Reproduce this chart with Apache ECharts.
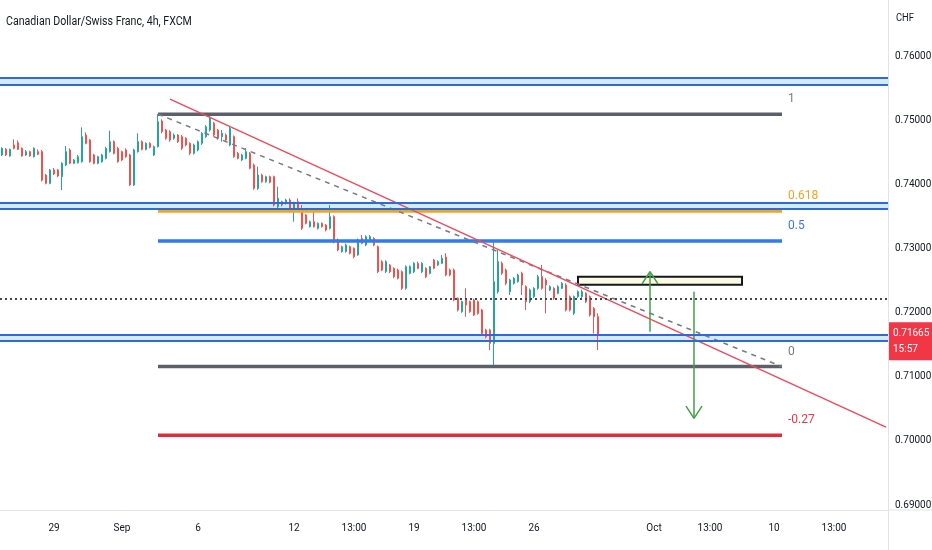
<!DOCTYPE html>
<html>
<head>
<meta charset="utf-8">
<script src="https://cdn.jsdelivr.net/npm/echarts@6/dist/echarts.min.js"></script>
<style>
html,body{margin:0;padding:0;background:#fff}
#chart{width:932px;height:550px}
</style>
</head>
<body>
<div id="chart"></div>
<script>
const FONT = "Roboto,'Liberation Sans',sans-serif";

// 4h candles, [open, close, low, high]
const candles = [
  [0.74463,0.74567,0.74447,0.74582],[0.74551,0.74463,0.74447,0.74572],[0.74447,0.74551,0.74437,0.74562],
  [0.74619,0.74567,0.74551,0.74707],[0.74655,0.74551,0.74541,0.74690],[0.74567,0.74447,0.74437,0.74582],
  [0.74463,0.74515,0.74447,0.74541],[0.74515,0.74447,0.74437,0.74530],[0.74437,0.74567,0.74422,0.74582],
  [0.74515,0.74473,0.74463,0.74551],[0.74515,0.74072,0.74050,0.74541],[0.74150,0.74020,0.74005,0.74166],
  [0.74020,0.74229,0.74005,0.74245],[0.74229,0.74166,0.74150,0.74260],[0.74229,0.74135,0.74115,0.74245],
  [0.74124,0.74333,0.73916,0.74350],[0.74307,0.74515,0.74290,0.74603],[0.74541,0.74333,0.74320,0.74567],
  [0.74333,0.74385,0.74320,0.74400],[0.74343,0.74437,0.74330,0.74463],[0.74359,0.74749,0.74343,0.74894],
  [0.74775,0.74645,0.74630,0.74815],[0.74697,0.74359,0.74343,0.74712],[0.74463,0.74333,0.74318,0.74480],
  [0.74333,0.74437,0.74318,0.74450],[0.74359,0.74463,0.74343,0.74480],[0.74411,0.74567,0.74395,0.74590],
  [0.74515,0.74671,0.74500,0.74842],[0.74671,0.74489,0.74473,0.74690],[0.74567,0.74359,0.74343,0.74590],
  [0.74515,0.74385,0.74370,0.74530],[0.74541,0.74437,0.74420,0.74567],[0.74463,0.73994,0.73980,0.74480],
  [0.73994,0.74541,0.73980,0.74560],[0.74515,0.74671,0.74500,0.74801],[0.74671,0.74551,0.74535,0.74690],
  [0.74551,0.74645,0.74535,0.74660],[0.74645,0.74582,0.74567,0.74660],[0.74463,0.74593,0.74447,0.74610],
  [0.74593,0.74983,0.74580,0.75100],[0.74993,0.74827,0.74801,0.75020],[0.74853,0.74723,0.74700,0.74870],
  [0.74827,0.74697,0.74670,0.74850],[0.74723,0.74775,0.74700,0.74800],[0.74775,0.74671,0.74650,0.74790],
  [0.74749,0.74567,0.74540,0.74775],[0.74723,0.74619,0.74600,0.74740],[0.74645,0.74489,0.74463,0.74660],
  [0.74489,0.74619,0.74470,0.74640],[0.74541,0.74671,0.74520,0.74690],[0.74645,0.74801,0.74620,0.74820],
  [0.74749,0.74905,0.74730,0.74930],[0.74853,0.75035,0.74830,0.75090],[0.74957,0.74775,0.74750,0.74980],
  [0.74853,0.74723,0.74700,0.74870],[0.74749,0.74801,0.74671,0.74853],[0.74775,0.74697,0.74680,0.74800],
  [0.74619,0.74879,0.74600,0.74905],[0.74749,0.74437,0.74420,0.74770],[0.74489,0.74411,0.74395,0.74510],
  [0.74385,0.74463,0.74370,0.74480],[0.74411,0.74515,0.74395,0.74567],[0.74489,0.74255,0.74240,0.74510],
  [0.74307,0.73942,0.73920,0.74330],[0.73942,0.74150,0.73916,0.74281],[0.74150,0.74046,0.74030,0.74170],
  [0.74046,0.74124,0.74030,0.74140],[0.74124,0.74036,0.74020,0.74140],[0.74124,0.73682,0.73660,0.74140],
  [0.73656,0.73786,0.73578,0.73968],[0.73734,0.73682,0.73660,0.73750],[0.73708,0.73760,0.73690,0.73780],
  [0.73760,0.73600,0.73560,0.73786],[0.73600,0.73708,0.73422,0.73734],[0.73734,0.73604,0.73580,0.73786],
  [0.73604,0.73318,0.73292,0.73682],[0.73526,0.73396,0.73380,0.73540],[0.73344,0.73422,0.73330,0.73440],
  [0.73422,0.73344,0.73330,0.73578],[0.73318,0.73396,0.73300,0.73410],[0.73396,0.73344,0.73330,0.73410],
  [0.73370,0.73292,0.73270,0.73385],[0.73318,0.73500,0.73300,0.73682],[0.73500,0.73136,0.73084,0.73520],
  [0.73136,0.72980,0.72960,0.73160],[0.72954,0.73032,0.72940,0.73050],[0.72954,0.73058,0.72940,0.73080],
  [0.73032,0.72928,0.72910,0.73050],[0.73006,0.72876,0.72850,0.73020],[0.72902,0.73136,0.72890,0.73160],
  [0.73162,0.73084,0.73070,0.73214],[0.73058,0.73188,0.73040,0.73210],[0.73136,0.73188,0.73110,0.73214],
  [0.73162,0.73058,0.73040,0.73180],[0.73032,0.72642,0.72620,0.73050],[0.72798,0.72668,0.72650,0.72820],
  [0.72642,0.72798,0.72620,0.72820],[0.72746,0.72642,0.72620,0.72760],[0.72694,0.72564,0.72540,0.72710],
  [0.72668,0.72538,0.72520,0.72690],[0.72642,0.72382,0.72356,0.72660],[0.72382,0.72720,0.72360,0.72740],
  [0.72616,0.72720,0.72600,0.72740],[0.72642,0.72772,0.72620,0.72790],[0.72772,0.72694,0.72680,0.72800],
  [0.72642,0.72772,0.72620,0.72790],[0.72694,0.72564,0.72540,0.72710],[0.72616,0.72720,0.72600,0.72730],
  [0.72824,0.72694,0.72680,0.72840],[0.72746,0.72798,0.72730,0.72820],[0.72772,0.72850,0.72760,0.72902],
  [0.72870,0.72590,0.72570,0.72928],[0.72668,0.72590,0.72570,0.72690],[0.72668,0.72200,0.72180,0.72690],
  [0.72226,0.72043,0.72020,0.72240],[0.72017,0.72174,0.72000,0.72190],[0.72200,0.72121,0.71939,0.72382],
  [0.72174,0.72017,0.72000,0.72190],[0.72200,0.71965,0.71950,0.72220],[0.72174,0.71991,0.71970,0.72190],
  [0.72043,0.71679,0.71660,0.72060],[0.71731,0.71627,0.71600,0.71750],[0.71731,0.71523,0.71419,0.71750],
  [0.71523,0.72486,0.71159,0.73136],[0.72330,0.72798,0.72300,0.72980],[0.72772,0.72616,0.72590,0.72800],
  [0.72668,0.72460,0.72430,0.72690],[0.72330,0.72512,0.72277,0.72530],[0.72460,0.72538,0.72440,0.72560],
  [0.72486,0.72590,0.72470,0.72610],[0.72616,0.72434,0.72277,0.72640],[0.72408,0.72174,0.72043,0.72430],
  [0.72174,0.72356,0.72150,0.72380],[0.72252,0.72382,0.72230,0.72400],[0.72382,0.72564,0.72360,0.72590],
  [0.72564,0.72382,0.72360,0.72746],[0.72512,0.72434,0.71991,0.72540],[0.72356,0.72408,0.72340,0.72430],
  [0.72382,0.72226,0.72200,0.72400],[0.72304,0.72408,0.72290,0.72430],[0.72382,0.72460,0.72370,0.72480],
  [0.72434,0.72043,0.72020,0.72460],[0.72252,0.72043,0.72020,0.72270],[0.71991,0.72252,0.71965,0.72270],
  [0.72252,0.72330,0.72230,0.72350],[0.72252,0.72330,0.72230,0.72360],[0.72304,0.72174,0.72150,0.72320],
  [0.72252,0.71965,0.71940,0.72270],[0.72069,0.71939,0.71679,0.72090],[0.71939,0.71665,0.71419,0.71990]
];

const slotCount = 222; // candle slots incl. empty space on the right
const tickIndex = [13, 30, 49, 73, 88, 103, 118, 133, 163, 177, 193, 208];
const tickText = ['29', 'Sep', '6', '12', '13:00', '19', '13:00', '26', 'Oct', '13:00', '10', '13:00'];

// fib retracement
const fibLabels = ['1', '0.618', '0.5', '0', '-0.27'];
const fibPrices = [0.7510, 0.7359, 0.7312, 0.7116, 0.7009];
const fibStart = 39, fibEnd = 195;

// drawings
const zones = [[0.75666, 0.75557], [0.73717, 0.73618], [0.71653, 0.71559]];
const trendRed = [[42, 0.75334], [221, 0.70216]];
const trendDashed = [[39, 0.7510], [195, 0.7116]];
const refLine = 0.72226;
const boxCorners = [[144, 0.72563], [185, 0.72438]];
const arrowUp = [[162, 0.71705], [162, 0.72641]];
const arrowDown = [[173, 0.72329], [173, 0.70353]];
const lastPrice = 0.71665;
const countdown = '15:57';

const fibColors = ['#5d606b', '#f7a21b', '#3179f5', '#5d606b', '#e8293a'];
const fibTextColors = ['#787b86', '#f7a21b', '#3179f5', '#787b86', '#f23645'];
const zoneLine = '#2e6bd9';
const green = '#43a047';

function plainLine(data, color, width, type, z) {
  return {
    type: 'line', data: data, symbol: 'none', silent: true, z: z || 3,
    lineStyle: {color: color, width: width, type: type || 'solid'}
  };
}

function arrow(shaft) {
  const tip = shaft[1];
  const dir = tip[1] > shaft[0][1] ? -1 : 1;
  const dx = 1.8, dy = 0.0019;
  return [
    plainLine(shaft, green, 1.5),
    plainLine([[tip[0] - dx, tip[1] + dir * dy], tip, [tip[0] + dx, tip[1] + dir * dy]], green, 1.5)
  ];
}

const fibSeries = fibPrices.map((p, k) => ({
  type: 'line', symbol: 'none', silent: true, z: 3,
  data: [[fibStart, p], [fibEnd, p]],
  lineStyle: {color: fibColors[k], width: 3.5},
  endLabel: {
    show: true, formatter: fibLabels[k], color: fibTextColors[k],
    fontSize: 12, fontFamily: FONT, distance: 6, offset: [0, -15]
  }
}));

const chart = echarts.init(document.getElementById('chart'));

chart.setOption({
  animation: false,
  backgroundColor: '#ffffff',
  grid: {left: 0, right: 44, top: 0, bottom: 40, outerBoundsMode: 'none'},
  xAxis: {
    type: 'category',
    data: Array.from({length: slotCount}, (_, i) => i),
    axisLine: {lineStyle: {color: '#e0e3eb'}},
    axisTick: {show: false},
    splitLine: {show: false},
    axisLabel: {
      interval: (idx) => tickIndex.includes(idx),
      formatter: (v, idx) => tickText[tickIndex.indexOf(idx)] || '',
      color: '#131722', fontSize: 10, fontFamily: FONT, margin: 13
    }
  },
  yAxis: {
    type: 'value', position: 'right',
    min: 0.68922, max: 0.76882, splitNumber: 8,
    axisLine: {show: true, lineStyle: {color: '#e0e3eb'}},
    axisTick: {show: false},
    splitLine: {show: false},
    axisLabel: {
      showMinLabel: false, showMaxLabel: false,
      formatter: (v) => v.toFixed(5),
      color: '#131722', fontSize: 10, fontFamily: FONT, margin: 7
    }
  },
  graphic: [
    {type: 'text', x: 6, y: 22, scaleX: 0.85, silent: true,
      style: {text: 'Canadian Dollar/Swiss Franc, 4h, FXCM', fill: '#131722',
        font: '12.5px ' + FONT, textVerticalAlign: 'middle'}},
    {type: 'text', x: 896, y: 18, scaleX: 0.85, silent: true,
      style: {text: 'CHF', fill: '#131722', font: '11px ' + FONT, textVerticalAlign: 'middle'}},
    {type: 'line', shape: {x1: 888, y1: 510, x2: 932, y2: 510}, style: {stroke: '#e0e3eb', lineWidth: 1}},
    {type: 'line', shape: {x1: 888.5, y1: 510, x2: 888.5, y2: 550}, style: {stroke: '#e0e3eb', lineWidth: 1}}
  ],
  series: [
    {
      // horizontal zones
      type: 'line', data: [], z: 1, silent: true,
      markArea: {
        silent: true,
        itemStyle: {color: '#d4ebf5'},
        data: zones.map(zn => [{yAxis: zn[0]}, {yAxis: zn[1]}])
      },
      markLine: {
        silent: true, symbol: 'none', precision: 6, label: {show: false},
        lineStyle: {color: zoneLine, width: 2, type: 'solid'},
        data: zones.flatMap(zn => [{yAxis: zn[0]}, {yAxis: zn[1]}])
      }
    },
    {
      name: 'CADCHF', type: 'candlestick', data: candles, z: 2,
      barWidth: 2.2,
      itemStyle: {
        color: '#26a69a', color0: '#ef5350',
        borderColor: '#26a69a', borderColor0: '#ef5350', borderWidth: 1
      },
      markArea: {
        silent: true,
        itemStyle: {color: '#fdfae2', borderColor: '#131722', borderWidth: 2},
        data: [[{coord: boxCorners[0]}, {coord: boxCorners[1]}]]
      },
      markLine: {
        silent: true, symbol: 'none', precision: 6,
        data: [
          {yAxis: refLine, lineStyle: {color: '#434651', width: 2, type: [2, 3]}, label: {show: false}},
          {
            yAxis: lastPrice,
            lineStyle: {color: zoneLine, width: 1, type: [1, 2]},
            label: {
              show: true, position: 'end', distance: 1, offset: [0, 7],
              formatter: lastPrice.toFixed(5) + '\n' + countdown,
              backgroundColor: '#f23645', color: '#ffffff',
              fontSize: 10, fontFamily: FONT, lineHeight: 16, padding: [3, 4, 3, 4]
            }
          }
        ]
      }
    },
    ...fibSeries,
    plainLine(trendDashed, '#787b86', 1.5, [5, 5]),
    plainLine(trendRed, '#f04b5a', 1.5),
    ...arrow(arrowUp),
    ...arrow(arrowDown)
  ]
});
</script>
</body>
</html>
